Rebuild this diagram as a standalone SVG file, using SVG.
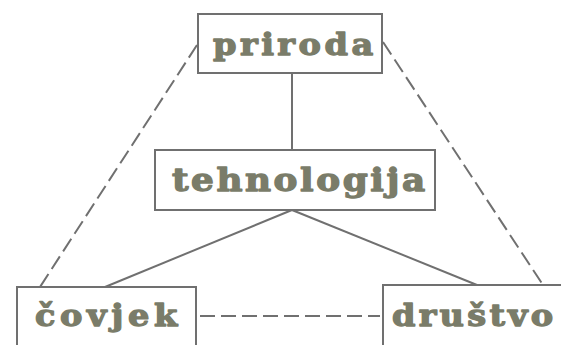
<svg xmlns="http://www.w3.org/2000/svg" width="561" height="345" viewBox="0 0 561 345">
  <style>
    .box { fill: #ffffff; stroke: #707070; stroke-width: 2; }
    .lbl { font-family: "DejaVu Serif", "Liberation Serif", serif; font-weight: bold; font-size: 30px; fill: #7a7c69; stroke: #7a7c69; stroke-width: 1.3; stroke-linejoin: round; }
    .solid { stroke: #707070; stroke-width: 2; fill: none; }
    .dash { stroke: #707070; stroke-width: 2; fill: none; stroke-dasharray: 15 6; }
  </style>
  <rect width="561" height="345" fill="#ffffff"/>
  <g id="connectors">
    <line class="solid" x1="292" y1="73" x2="292" y2="150"/>
    <line class="solid" x1="292" y1="210" x2="105" y2="287"/>
    <line class="solid" x1="292" y1="210" x2="477" y2="285"/>
    <line class="dash" x1="197" y1="45" x2="40" y2="287"/>
    <line class="dash" x1="383" y1="42" x2="543" y2="285"/>
    <line class="dash" x1="200" y1="316" x2="380" y2="316" stroke-dasharray="22 8"/>
  </g>
  <!-- labels are widened slightly for a broad slab look -->
  <g id="priroda">
    <rect class="box" x="198" y="14" width="184" height="59"/>
    <text class="lbl" transform="translate(213,55) scale(1.12,1)" textLength="143" lengthAdjust="spacing">priroda</text>
  </g>
  <g id="tehnologija">
    <rect class="box" x="155" y="150" width="280" height="60"/>
    <text class="lbl" transform="translate(172,191) scale(1.12,1)" textLength="226" lengthAdjust="spacing" style="font-size:32px">tehnologija</text>
  </g>
  <g id="covjek">
    <rect class="box" x="17" y="287" width="179" height="80"/>
    <text class="lbl" transform="translate(35,326) scale(1.12,1)" textLength="127" lengthAdjust="spacing">čovjek</text>
  </g>
  <g id="drustvo">
    <rect class="box" x="383" y="285" width="190" height="80"/>
    <text class="lbl" transform="translate(392,326) scale(1.12,1)" textLength="144" lengthAdjust="spacing">društvo</text>
  </g>
</svg>
